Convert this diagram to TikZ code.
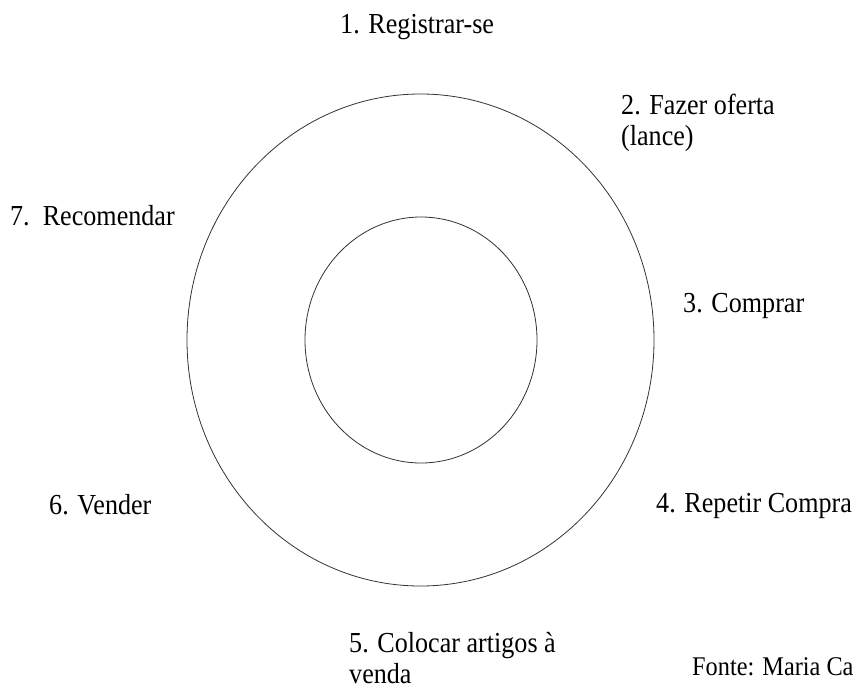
\documentclass[tikz,border=0pt]{standalone}
\usepackage{fontspec}
\setmainfont{Liberation Serif}[FakeStretch=0.9]
\usepackage{tikz}
\usetikzlibrary{positioning}

\begin{document}
\begin{tikzpicture}[x=1pt,y=-1pt,
  ring/.style={draw=black!80,line width=0.8pt},
  lbl/.style={anchor=base west,inner sep=0pt,align=left,
              font=\fontsize{29}{31}\selectfont},
  src/.style={lbl,font=\fontsize{27}{30}\selectfont}]
\useasboundingbox (0,0) rectangle (854,689);
\clip (0,0) rectangle (854,689);
% the two rings
\draw[ring] (420.5,340) ellipse [x radius=233.5pt,y radius=246pt];
\draw[ring] (421,340) ellipse [x radius=116pt,y radius=123pt];
% steps round the rings
\node[lbl] (reg)     at (340,33)  {1. Registrar-se};
\node[lbl] (oferta)  at (621,145) {2. Fazer oferta\\(lance)};
\node[lbl] (comprar) at (683,312) {3. Comprar};
\node[lbl] (repetir) at (656,512) {4. Repetir Compra};
\node[lbl] (colocar) at (349,683) {5. Colocar artigos à\\venda};
\node[lbl] (vender)  at (49,514)  {6. Vender};
\node[lbl] (recom)   at (10,225)  {7.\ \ Recomendar};
\node[src] (fonte)   at (692,675) {Fonte: Maria Ca};
\end{tikzpicture}
\end{document}
